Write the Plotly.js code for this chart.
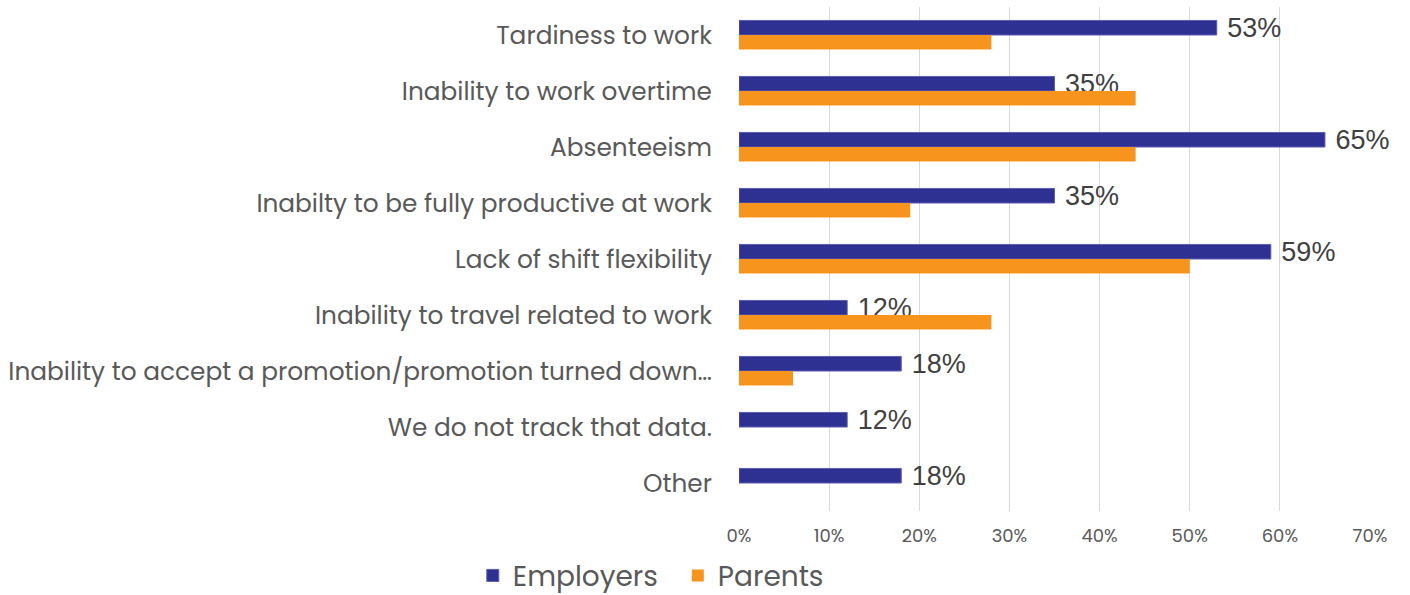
<!DOCTYPE html>
<html>
<head>
<meta charset="utf-8">
<script src="https://cdn.plot.ly/plotly-3.0.1.min.js"></script>
<style>html,body{margin:0;padding:0;background:#fff;}#chart{width:1410px;height:595px;}</style>
</head>
<body>
<div id="chart"></div>
<script>
const categories = [
  "Tardiness to work",
  "Inability to work overtime",
  "Absenteeism",
  "Inabilty to be fully productive at work",
  "Lack of shift flexibility",
  "Inability to travel related to work",
  "Inability to accept a promotion/promotion turned down…",
  "We do not track that data.",
  "Other"
];
const employers = [53, 35, 65, 35, 59, 12, 18, 12, 18];
const parents = [28, 44, 44, 19, 50, 28, 6, 0, 0];
const xTicks = [0, 10, 20, 30, 40, 50, 60, 70];

const font = "Poppins, 'Open Sans', 'Noto Sans', sans-serif";
const labelFont = "'Liberation Sans', Arial, sans-serif";

const data = [
  {
    type: 'bar', orientation: 'h', name: 'Employers',
    y: categories, x: employers,
    marker: {color: '#2E3192', line: {color: '#5A5DB0', width: 1}},
    text: employers.map(v => '\u00a0' + v + '%'),
    textposition: 'outside',
    constraintext: 'none',
    textfont: {size: 27, color: '#404040', family: labelFont},
    cliponaxis: false,
    hoverinfo: 'x+y'
  },
  {
    type: 'bar', orientation: 'h', name: 'Parents',
    y: categories, x: parents,
    marker: {color: '#F7941D'},
    hoverinfo: 'x+y'
  }
];

const layout = {
  width: 1410, height: 595,
  margin: {l: 739, r: 40, t: 7, b: 84, autoexpand: false},
  paper_bgcolor: '#fff', plot_bgcolor: '#fff',
  barmode: 'group',
  bargap: 0.48,
  bargroupgap: 0,
  font: {family: font, color: '#595959'},
  xaxis: {
    range: [0, 70],
    tickvals: xTicks,
    ticktext: xTicks.map(v => v + '%'),
    showgrid: true, gridcolor: '#d9d9d9', gridwidth: 1,
    zeroline: false, showline: false,
    tickfont: {size: 18, color: '#595959', family: font},
    ticks: '', ticklabelstandoff: 12, fixedrange: true
  },
  yaxis: {
    autorange: 'reversed',
    type: 'category',
    showgrid: false, zeroline: false, showline: false,
    ticks: '',
    ticklabelstandoff: 26,
    tickfont: {size: 24.8, color: '#595959', family: font},
    fixedrange: true
  },
  showlegend: true,
  legend: {
    orientation: 'h',
    x: -0.097, xanchor: 'center',
    y: -0.178, yanchor: 'bottom',
    font: {size: 28, color: '#595959', family: font},
    itemwidth: 30,
    entrywidth: 160, entrywidthmode: 'pixels',
    traceorder: 'normal'
  }
};

Plotly.newPlot('chart', data, layout, {displayModeBar: false, staticPlot: true});
</script>
</body>
</html>
